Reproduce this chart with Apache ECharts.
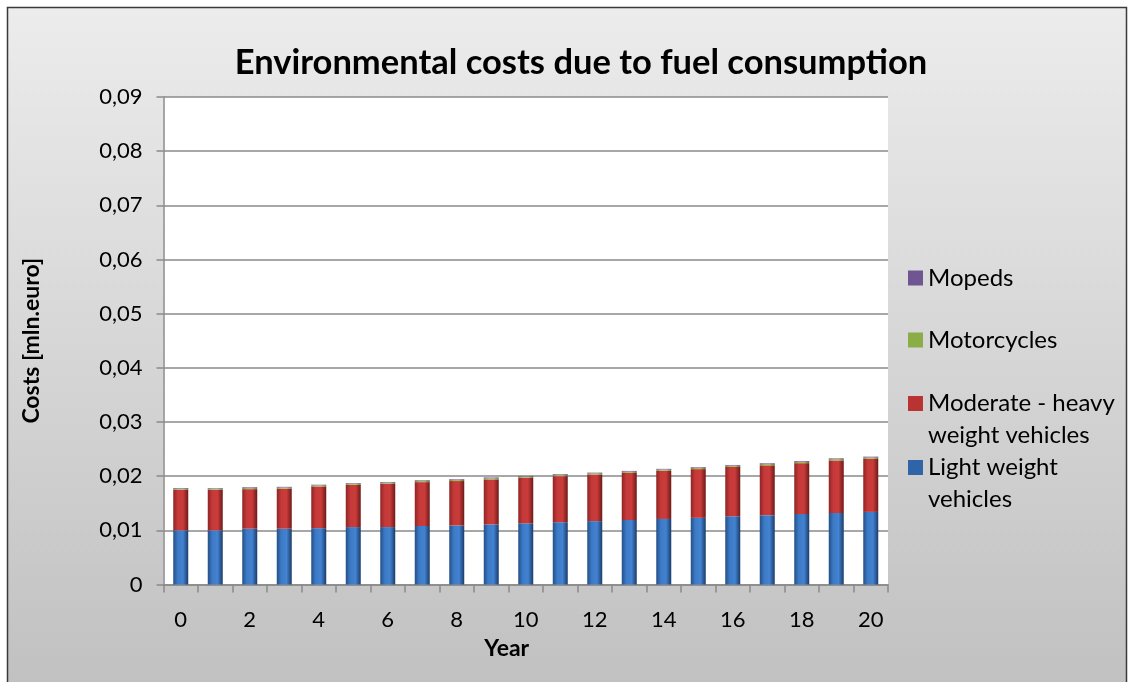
<!DOCTYPE html>
<html>
<head>
<meta charset="utf-8">
<script src="https://cdn.jsdelivr.net/npm/echarts@6/dist/echarts.min.js"></script>
<style>
html,body{margin:0;padding:0;background:#fff;}
#chart{width:1131px;height:682px;}
</style>
</head>
<body>
<div id="chart"></div>
<script>
var years = ['0','1','2','3','4','5','6','7','8','9','10','11','12','13','14','15','16','17','18','19','20'];
var lightWeight = [0.0100,0.0100,0.0103,0.0103,0.0104,0.0106,0.0106,0.0108,0.0109,0.0111,0.0113,0.0115,0.0117,0.0119,0.0121,0.0123,0.0126,0.0128,0.0130,0.0132,0.0134];
var moderateHeavy = [0.0075,0.0075,0.0073,0.0074,0.0077,0.0078,0.0080,0.0081,0.0082,0.0083,0.0084,0.0085,0.0086,0.0087,0.0089,0.0090,0.0091,0.0092,0.0094,0.0097,0.0098];
var motorcycles = [0.00020,0.00020,0.00020,0.00020,0.00021,0.00021,0.00021,0.00022,0.00022,0.00022,0.00022,0.00023,0.00023,0.00023,0.00023,0.00024,0.00024,0.00024,0.00025,0.00025,0.00025];
var mopeds = [0.00012,0.00010,0.00014,0.00013,0.00011,0.00011,0.00012,0.00012,0.00012,0.00014,0.00012,0.00013,0.00012,0.00014,0.00012,0.00012,0.00013,0.00013,0.00014,0.00013,0.00015];
var yTicks = [0,0.01,0.02,0.03,0.04,0.05,0.06,0.07,0.08,0.09];

var names = ['Light weight vehicles','Moderate - heavy weight vehicles','Motorcycles','Mopeds'];
var legendText = {
  'Mopeds':'Mopeds',
  'Motorcycles':'Motorcycles',
  'Moderate - heavy weight vehicles':'Moderate - heavy\nweight vehicles',
  'Light weight vehicles':'Light weight\nvehicles'
};

function hgrad(c0,c1,c2,c3){
  return new echarts.graphic.LinearGradient(0,0,1,0,[
    {offset:0,color:c0},{offset:0.3,color:c1},{offset:0.65,color:c2},{offset:1,color:c3}]);
}
var colors = {
  'Light weight vehicles': hgrad('#234f87','#3c7ac6','#4382d0','#1a3c6a'),
  'Moderate - heavy weight vehicles': hgrad('#8e2523','#c6393a','#c93c39','#6e1a19'),
  'Motorcycles': hgrad('#6f8a38','#9bbb59','#a0c05e','#5c742c'),
  'Mopeds': hgrad('#5a4478','#8064a2','#8668a8','#4a3866')
};
var legendColors = {
  'Light weight vehicles':'#2f64a8',
  'Moderate - heavy weight vehicles':'#b83331',
  'Motorcycles':'#8aad48',
  'Mopeds':'#6f5592'
};
var dataMap = {
  'Light weight vehicles': lightWeight,
  'Moderate - heavy weight vehicles': moderateHeavy,
  'Motorcycles': motorcycles,
  'Mopeds': mopeds
};

var FONT = 'Lato';
var chart = echarts.init(document.getElementById('chart'), null, {renderer:'canvas'});

function mkLegend(name, top, twoLine){
  return {
    data:[{name:name, icon: twoLine ? 'path://M0,0H15V15H0Z M0,46H0.05V46.05H0Z' : 'rect',
           itemStyle:{color:legendColors[name]}}],
    left: 903, top: top, orient:'vertical',
    itemWidth:15, itemHeight: twoLine ? 46 : 15,
    selectedMode:false,
    formatter:function(n){return legendText[n];},
    textStyle:{fontFamily:FONT, fontSize:24, color:'#000', lineHeight:32}
  };
}

var option = {
  animation:false,
  backgroundColor:'transparent',
  graphic:[{
    type:'rect', z:-10, silent:true,
    shape:{x:7.5,y:7.5,width:1119,height:690},
    style:{
      fill:new echarts.graphic.LinearGradient(0,0,0,1,[{offset:0,color:'#ececec'},{offset:1,color:'#c0c0c0'}]),
      stroke:'#3a3a3a', lineWidth:1.5
    }
  }],
  title:{
    text:'Environmental costs due to fuel consumption',
    left:576, top:40, textAlign:'center',
    textStyle:{fontFamily:FONT, fontSize:34.5, fontWeight:'bold', color:'#000'}
  },
  legend:[
    mkLegend('Mopeds',257,false),
    mkLegend('Motorcycles',319,false),
    mkLegend('Moderate - heavy weight vehicles',382,true),
    mkLegend('Light weight vehicles',446,true)
  ],
  grid:{left:163.5, right:243, top:97, bottom:97.5, show:true, backgroundColor:'#ffffff', borderWidth:0},
  xAxis:{
    type:'category', data:years,
    name:'Year', nameLocation:'middle', nameGap:53,
    nameTextStyle:{fontFamily:FONT, fontSize:23, fontWeight:'bold', color:'#000', padding:[0,38,0,0]},
    axisLine:{lineStyle:{color:'#8a8a8a', width:1.5}},
    axisTick:{show:true, interval:0, length:8, lineStyle:{color:'#8a8a8a', width:1.5}},
    axisLabel:{interval:1, fontFamily:FONT, fontSize:22, color:'#000', margin:24}
  },
  yAxis:{
    type:'value', min:yTicks[0], max:yTicks[yTicks.length-1], interval:yTicks[1]-yTicks[0],
    name:'Costs [mln.euro]', nameLocation:'middle', nameGap:120,
    nameTextStyle:{fontFamily:FONT, fontSize:23, fontWeight:'bold', color:'#000'},
    axisLine:{show:true, lineStyle:{color:'#8a8a8a', width:1.5}},
    axisTick:{show:true, length:7, lineStyle:{color:'#8a8a8a', width:1.5}},
    axisLabel:{fontFamily:FONT, fontSize:22, color:'#000', margin:21,
      formatter:function(v){ return v===0 ? '0' : v.toFixed(2).replace('.',','); }},
    splitLine:{lineStyle:{color:'#8a8a8a', width:1.5}}
  },
  series: names.map(function(n){
    return {
      name:n, type:'bar', stack:'total', barWidth:15,
      data:dataMap[n],
      itemStyle:{color:colors[n]},
      emphasis:{disabled:true}
    };
  })
};
chart.setOption(option);
</script>
</body>
</html>
